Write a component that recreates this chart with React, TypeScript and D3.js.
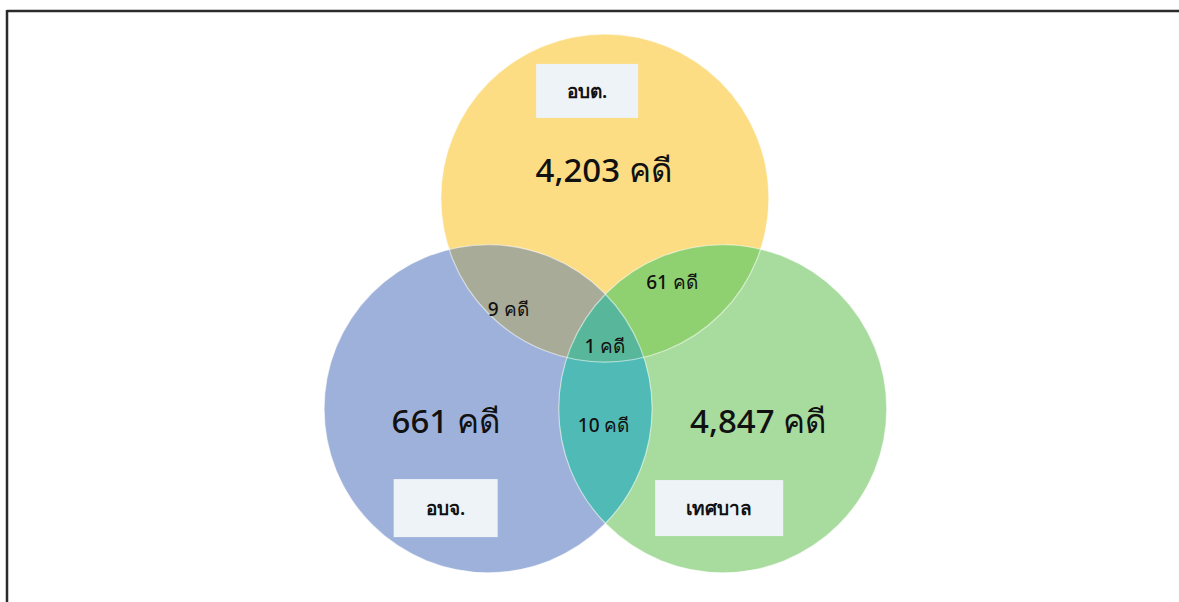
import * as d3 from "d3";

const setNames = ["อบต.", "อบจ.", "เทศบาล"];
const onlyCounts = [4203, 661, 4847];
// pairs: [อบต.∩อบจ., อบต.∩เทศบาล, อบจ.∩เทศบาล]
const pairCounts = [9, 61, 10];
const tripleCount = 1;
const unit = "คดี";

const W = 1179;
const H = 602;

// layout in abstract units, mapped to pixels with d3 scales
const x = d3.scaleLinear().domain([0, 100]).range([0, W]);
const y = d3.scaleLinear().domain([0, 100]).range([0, H]);
const rPx = 164;

const centers = [
  { cx: 51.3, cy: 32.9 },
  { cx: 41.4, cy: 67.9 },
  { cx: 61.3, cy: 67.9 },
];
const baseColors = ["#fcdd84", "#9eb1da", "#a8dc9e"];
const pairColors = ["#a8ab98", "#8fd070", "#4fbab6"];
const tripleColor = "#58b79a";

const onlyPos = [
  { x: 51.2, y: 28.1 },
  { x: 37.8, y: 69.9 },
  { x: 64.3, y: 69.9 },
];
const pairPos = [
  { x: 43.1, y: 51.3 },
  { x: 57.0, y: 46.9 },
  { x: 51.2, y: 70.6 },
];
const triplePos = { x: 51.3, y: 57.4 };
const boxPos = [
  { x: 49.8, y: 15.1, w: 102, h: 54 },
  { x: 37.8, y: 84.4, w: 104, h: 58 },
  { x: 61.0, y: 84.4, w: 128, h: 56 },
];

const fmt = d3.format(",");
const font = "'Noto Sans', 'DejaVu Sans', sans-serif";

function App() {
  const c = centers.map((d) => ({ cx: x(d.cx), cy: y(d.cy) }));
  return (
    <svg
      width={W}
      height={H}
      style={{ position: "absolute", left: 0, top: 0, background: "#fff" }}
      fontFamily={font}
    >
      <defs>
        {c.map((d, i) => (
          <clipPath id={`clip${i}`} key={i}>
            <circle cx={d.cx} cy={d.cy} r={rPx} />
          </clipPath>
        ))}
      </defs>
      <line x1={7} x2={W} y1={11} y2={11} stroke="#2b2b2b" strokeWidth={2.5} />
      <line x1={7} x2={7} y1={10} y2={H} stroke="#2b2b2b" strokeWidth={2.5} />

      {c.map((d, i) => (
        <circle key={i} cx={d.cx} cy={d.cy} r={rPx} fill={baseColors[i]} />
      ))}
      {/* pairwise overlaps */}
      <g clipPath="url(#clip0)">
        <circle cx={c[1].cx} cy={c[1].cy} r={rPx} fill={pairColors[0]} />
        <circle cx={c[2].cx} cy={c[2].cy} r={rPx} fill={pairColors[1]} />
      </g>
      <g clipPath="url(#clip1)">
        <circle cx={c[2].cx} cy={c[2].cy} r={rPx} fill={pairColors[2]} />
      </g>
      <g clipPath="url(#clip0)">
        <g clipPath="url(#clip1)">
          <circle cx={c[2].cx} cy={c[2].cy} r={rPx} fill={tripleColor} />
        </g>
      </g>
      {c.map((d, i) => (
        <circle
          key={"o" + i}
          cx={d.cx}
          cy={d.cy}
          r={rPx}
          fill="none"
          stroke="#ffffff"
          strokeOpacity={0.55}
          strokeWidth={1.2}
        />
      ))}

      {/* name boxes */}
      {boxPos.map((b, i) => (
        <g key={"b" + i}>
          <rect
            x={x(b.x) - b.w / 2}
            y={y(b.y) - b.h / 2}
            width={b.w}
            height={b.h}
            fill="#eef3f8"
          />
          <text
            x={x(b.x)}
            y={y(b.y)}
            textAnchor="middle"
            dominantBaseline="central"
            fontSize={19}
            fontWeight={600}
            fill="#111"
          >
            {setNames[i]}
          </text>
        </g>
      ))}

      {onlyCounts.map((v, i) => (
        <text
          key={"n" + i}
          x={x(onlyPos[i].x)}
          y={y(onlyPos[i].y)}
          textAnchor="middle"
          dominantBaseline="central"
          fontSize={33}
          fontWeight={500}
          fill="#111"
        >
          {`${fmt(v)} ${unit}`}
        </text>
      ))}
      {pairCounts.map((v, i) => (
        <text
          key={"p" + i}
          x={x(pairPos[i].x)}
          y={y(pairPos[i].y)}
          textAnchor="middle"
          dominantBaseline="central"
          fontSize={19}
          fontWeight={500}
          fill="#111"
        >
          {`${fmt(v)} ${unit}`}
        </text>
      ))}
      <text
        x={x(triplePos.x)}
        y={y(triplePos.y)}
        textAnchor="middle"
        dominantBaseline="central"
        fontSize={19}
        fontWeight={500}
        fill="#111"
      >
        {`${fmt(tripleCount)} ${unit}`}
      </text>
    </svg>
  );
}

export default App;
